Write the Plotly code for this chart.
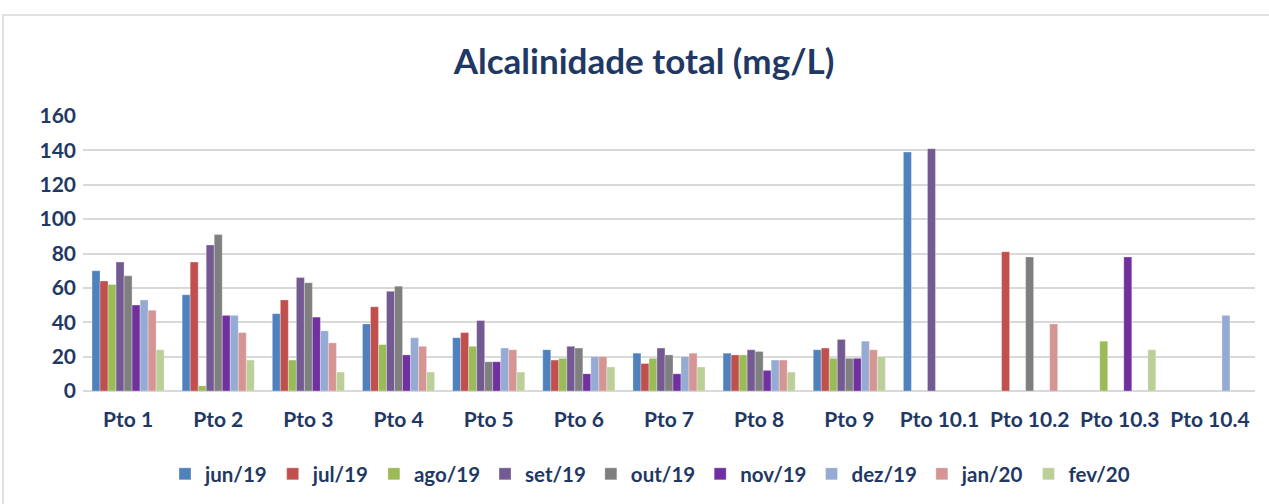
import plotly.graph_objects as go

categories = ["Pto 1", "Pto 2", "Pto 3", "Pto 4", "Pto 5", "Pto 6", "Pto 7", "Pto 8", "Pto 9",
              "Pto 10.1", "Pto 10.2", "Pto 10.3", "Pto 10.4"]

jun19 = [70, 56, 45, 39, 31, 24, 22, 22, 24, 139, None, None, None]
jul19 = [64, 75, 53, 49, 34, 18, 16, 21, 25, None, 81, None, None]
ago19 = [62, 3, 18, 27, 26, 19, 19, 21, 19, None, None, 29, None]
set19 = [75, 85, 66, 58, 41, 26, 25, 24, 30, 141, None, None, None]
out19 = [67, 91, 63, 61, 17, 25, 21, 23, 19, None, 78, None, None]
nov19 = [50, 44, 43, 21, 17, 10, 10, 12, 19, None, None, 78, None]
dez19 = [53, 44, 35, 31, 25, 20, 20, 18, 29, None, None, None, 44]
jan20 = [47, 34, 28, 26, 24, 20, 22, 18, 24, None, 39, None, None]
fev20 = [24, 18, 11, 11, 11, 14, 14, 11, 20, None, None, 24, None]

series = [
    ("jun/19", jun19, "#4F81BD"),
    ("jul/19", jul19, "#C0504D"),
    ("ago/19", ago19, "#9BBB59"),
    ("set/19", set19, "#735A92"),
    ("out/19", out19, "#7F7F7F"),
    ("nov/19", nov19, "#7030A0"),
    ("dez/19", dez19, "#95ABD3"),
    ("jan/20", jan20, "#D59594"),
    ("fev/20", fev20, "#BCCF98"),
]

y_ticks = [0, 20, 40, 60, 80, 100, 120, 140, 160]

font_family = "Lato, 'Open Sans', sans-serif"
text_color = "#1F3864"

W, H = 1269, 504
L, R, T, B = 83, 14, 116, 113
pw, ph = W - L - R, H - T - B

fig = go.Figure()
for name, vals, color in series:
    fig.add_trace(go.Bar(
        x=categories, y=vals, name="<b>" + name + "</b>",
        marker=dict(color=color, line=dict(color="rgba(255,255,255,0.5)", width=0.6)),
    ))

fig.update_layout(
    width=W, height=H,
    barmode="group", bargap=0.2, bargroupgap=0,
    paper_bgcolor="white", plot_bgcolor="white",
    margin=dict(l=L, r=R, t=T, b=B, autoexpand=False),
    title=dict(text="<b>Alcalinidade total (mg/L)</b>", xref="paper", x=(644 - L) / pw,
               xanchor="center", y=1 - 62 / H, yanchor="middle",
               font=dict(family=font_family, size=35, color=text_color)),
    font=dict(family=font_family, color=text_color),
    xaxis=dict(
        tickfont=dict(size=21, color=text_color, family=font_family),
        showgrid=False, showline=False, ticks="",
        tickvals=categories, ticktext=["<b>" + c + "</b>" for c in categories],
        ticklabelstandoff=14, automargin=False,
    ),
    yaxis=dict(
        range=[0, 160], tickvals=y_ticks, ticktext=["<b>%d</b>" % v for v in y_ticks],
        tickfont=dict(size=21, color=text_color, family=font_family),
        showgrid=True, gridcolor="#D9D9D9", gridwidth=2,
        zeroline=True, zerolinecolor="#D9D9D9", zerolinewidth=2,
        showline=False, ticks="", ticklabelstandoff=6, automargin=False,
    ),
    legend=dict(
        orientation="h", x=(650 - L) / pw, xanchor="center",
        y=(H - B - 474) / ph, yanchor="middle",
        font=dict(size=20.5, color=text_color, family=font_family),
        itemwidth=30, tracegroupgap=0,
    ),
    shapes=[dict(
        type="rect", xref="paper", yref="paper",
        x0=(3 - L) / pw, x1=(1290 - L) / pw,
        y0=(H - B - 530) / ph, y1=(H - B - 15) / ph,
        line=dict(color="#D9D9D9", width=1.5), fillcolor="rgba(0,0,0,0)", layer="below",
    )],
)

fig.write_html("out.html", config={"displayModeBar": False},
               post_script="document.body.style.margin='0';")
